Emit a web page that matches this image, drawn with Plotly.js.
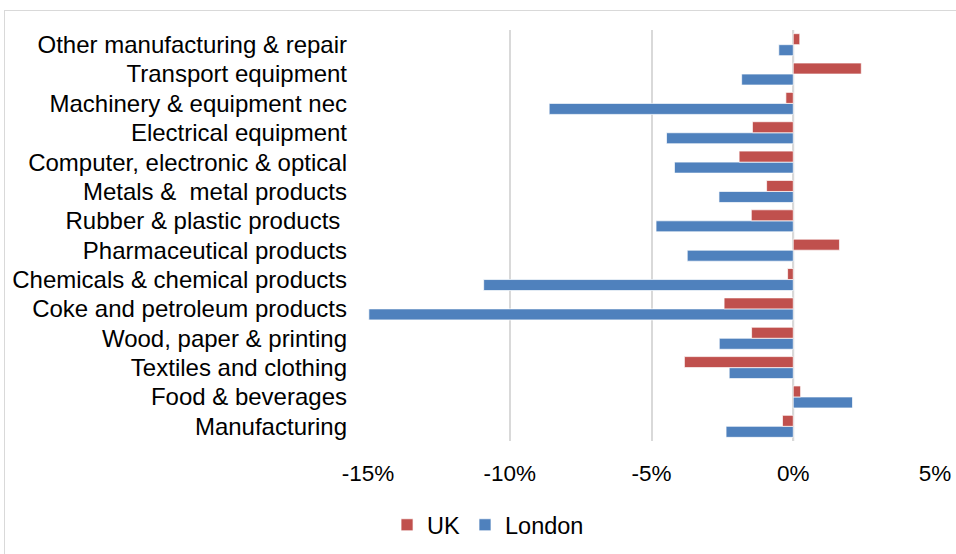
<!DOCTYPE html>
<html>
<head>
<meta charset="utf-8">
<script src="https://cdn.plot.ly/plotly-3.0.1.min.js"></script>
<style>
  html, body { margin: 0; padding: 0; background: #fff; }
  #frame { position: absolute; left: 4px; top: 10px; width: 970px; height: 570px; border: 1px solid #d9d9d9; box-sizing: border-box; }
  #chart { position: absolute; left: 0; top: 0; width: 956px; height: 554px; }
</style>
</head>
<body>
<div id="frame"></div>
<div id="chart"></div>
<script>
const categories = [
  "Manufacturing",
  "Food & beverages",
  "Textiles and clothing",
  "Wood, paper & printing",
  "Coke and petroleum products",
  "Chemicals & chemical products",
  "Pharmaceutical products",
  "Rubber & plastic products ",
  "Metals &  metal products",
  "Computer, electronic & optical",
  "Electrical equipment",
  "Machinery & equipment nec",
  "Transport equipment",
  "Other manufacturing & repair"
];
const ukValues = [-0.38, 0.26, -3.84, -1.47, -2.44, -0.20, 1.63, -1.48, -0.94, -1.91, -1.44, -0.26, 2.40, 0.23];
const londonValues = [-2.37, 2.09, -2.26, -2.61, -14.97, -10.92, -3.74, -4.84, -2.62, -4.19, -4.47, -8.61, -1.82, -0.51];
const xTickVals = [-15, -10, -5, 0, 5];
const xTickText = ["-15%", "-10%", "-5%", "0%", "5%"];

const font = "Liberation Sans, Arial, sans-serif";

const traces = [
  {
    type: "bar", orientation: "h", name: "London",
    y: categories, x: londonValues,
    marker: { color: "#4F81BD", line: { color: "rgba(255,255,255,0.7)", width: 1 } },
    hoverinfo: "skip"
  },
  {
    type: "bar", orientation: "h", name: "UK",
    y: categories, x: ukValues,
    marker: { color: "#C0504D", line: { color: "rgba(255,255,255,0.7)", width: 1 } },
    hoverinfo: "skip"
  }
];

const layout = {
  width: 956, height: 554,
  paper_bgcolor: "rgba(0,0,0,0)",
  plot_bgcolor: "rgba(0,0,0,0)",
  margin: { l: 368, r: 21, t: 30, b: 113 },
  barmode: "group",
  bargap: 0.25,
  bargroupgap: 0,
  font: { family: font, size: 22, color: "#000" },
  xaxis: {
    range: [-15, 5],
    tickvals: xTickVals, ticktext: xTickText,
    showgrid: true, gridcolor: "#d9d9d9", gridwidth: 2,
    zeroline: false, showline: false, ticks: "",
    ticklabelstandoff: 16,
    tickfont: { family: font, size: 22.5, color: "#000" }
  },
  yaxis: {
    type: "category",
    categoryorder: "array", categoryarray: categories,
    range: [-0.5, 13.5],
    showgrid: false, zeroline: false, showline: false, ticks: "",
    ticklabelstandoff: 20,
    tickfont: { family: font, size: 24, color: "#000" }
  },
  shapes: [
    { type: "line", xref: "x", yref: "paper", x0: 0, x1: 0, y0: 0, y1: 1,
      line: { color: "#d9d9d9", width: 2 }, layer: "below" }
  ],
  showlegend: true,
  legend: {
    orientation: "h", traceorder: "reversed",
    x: 0.5105, xref: "container", xanchor: "center",
    y: 1 - 525 / 554, yref: "container",
    yanchor: "middle",
    font: { family: font, size: 23.5, color: "#000" },
    itemwidth: 30
  }
};

Plotly.newPlot("chart", traces, layout, { displayModeBar: false, staticPlot: true });
</script>
</body>
</html>
